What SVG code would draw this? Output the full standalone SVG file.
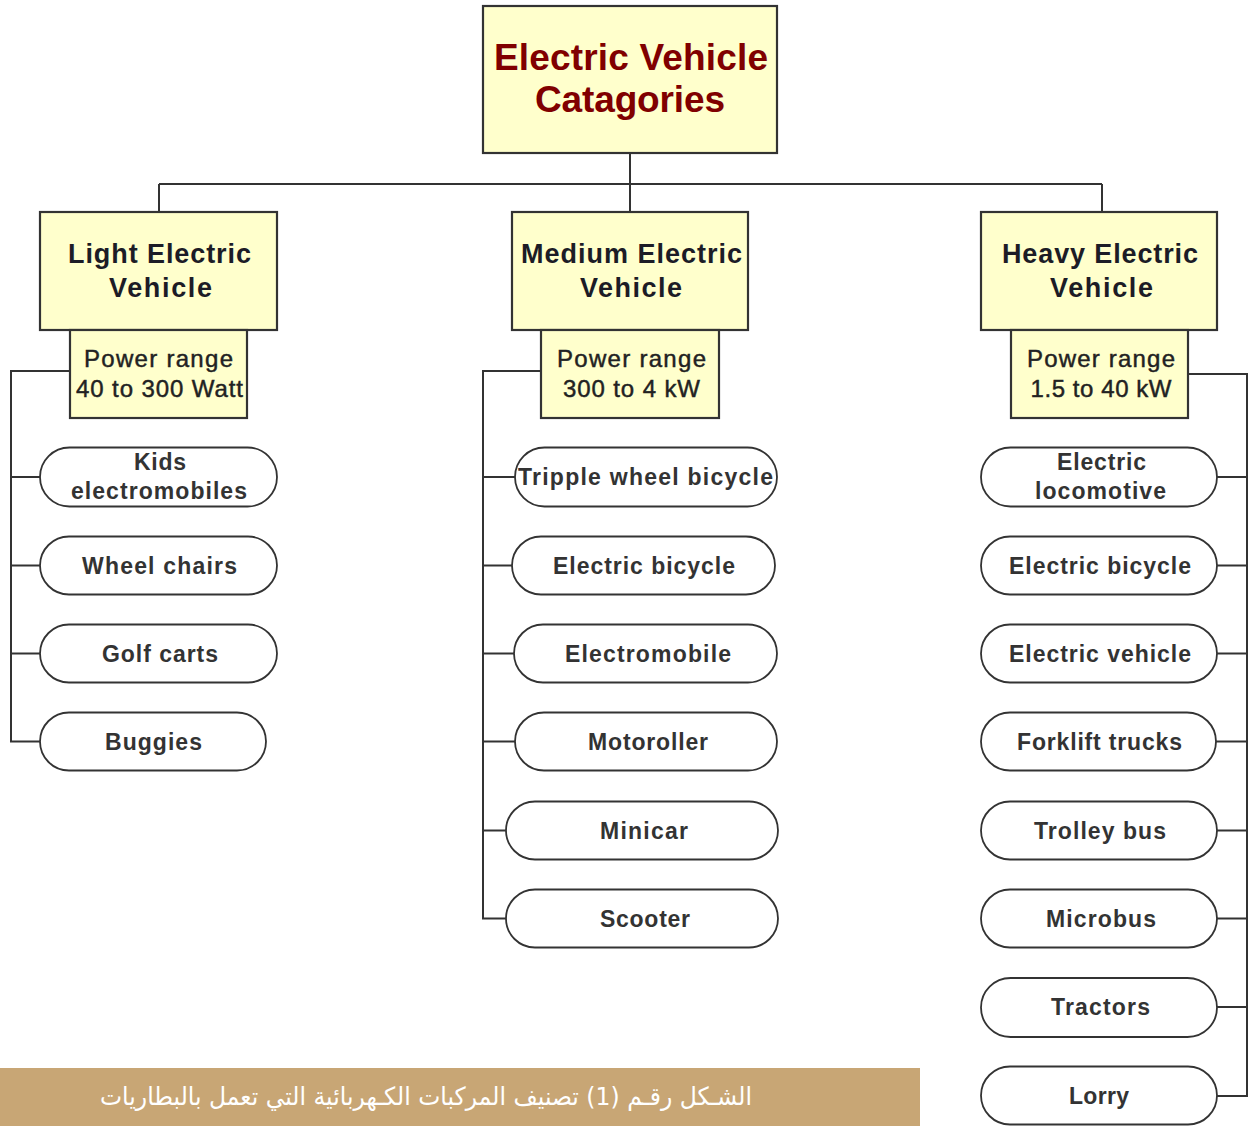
<svg xmlns="http://www.w3.org/2000/svg" width="1251" height="1128" viewBox="0 0 1251 1128">
  <style>
    .box { fill: #ffffcc; stroke: #333333; stroke-width: 2.2; }
    .pill { fill: #ffffff; stroke: #333333; stroke-width: 1.8; }
    .wire { fill: none; stroke: #333333; stroke-width: 2; }
    .root { font-family: "Liberation Sans", Arial, sans-serif; font-weight: bold; font-size: 37px; fill: #800000; text-anchor: middle; }
    .head { font-family: "Liberation Sans", Arial, sans-serif; font-weight: bold; font-size: 27px; fill: #1c1c26; text-anchor: middle; }
    .power { font-family: "Liberation Sans", Arial, sans-serif; font-size: 24px; fill: #222222; stroke: #222222; stroke-width: 0.45; text-anchor: middle; }
    .item { font-family: "Liberation Sans", Arial, sans-serif; font-weight: bold; font-size: 23px; fill: #333333; text-anchor: middle; }
    .caption { font-family: "DejaVu Sans", "Noto Sans", sans-serif; font-size: 25px; fill: #ffffff; text-anchor: middle; }
  </style>

  <rect width="1251" height="1128" fill="#ffffff"/>

  <!-- connectors -->
  <g id="connectors">
    <!-- root to category bus -->
    <line class="wire" x1="630" y1="153" x2="630" y2="212"/>
    <line class="wire" x1="159" y1="184" x2="1102" y2="184" stroke-width="2.6"/>
    <line class="wire" x1="159" y1="184" x2="159" y2="212"/>
    <line class="wire" x1="1102" y1="184" x2="1102" y2="212"/>
    <!-- light trunk -->
    <polyline class="wire" points="70,371 11,371 11,741.5 40,741.5"/>
    <line class="wire" x1="11" y1="477" x2="40" y2="477"/>
    <line class="wire" x1="11" y1="565.5" x2="40" y2="565.5"/>
    <line class="wire" x1="11" y1="653.5" x2="40" y2="653.5"/>
    <!-- medium trunk -->
    <polyline class="wire" points="541,371 483,371 483,918.5 506,918.5"/>
    <line class="wire" x1="483" y1="477" x2="515" y2="477"/>
    <line class="wire" x1="483" y1="565.5" x2="512" y2="565.5"/>
    <line class="wire" x1="483" y1="653.5" x2="514" y2="653.5"/>
    <line class="wire" x1="483" y1="741.5" x2="515" y2="741.5"/>
    <line class="wire" x1="483" y1="830.5" x2="506" y2="830.5"/>
    <!-- heavy trunk -->
    <polyline class="wire" points="1188,374 1247,374 1247,1096 1217,1096"/>
    <line class="wire" x1="1217" y1="477" x2="1247" y2="477"/>
    <line class="wire" x1="1217" y1="565.5" x2="1247" y2="565.5"/>
    <line class="wire" x1="1217" y1="653.5" x2="1247" y2="653.5"/>
    <line class="wire" x1="1216" y1="741.5" x2="1247" y2="741.5"/>
    <line class="wire" x1="1217" y1="830.5" x2="1247" y2="830.5"/>
    <line class="wire" x1="1217" y1="918.5" x2="1247" y2="918.5"/>
    <line class="wire" x1="1217" y1="1007" x2="1247" y2="1007"/>
  </g>

  <!-- root -->
  <g id="root">
    <rect class="box" x="483" y="6" width="294" height="147"/>
    <text class="root" x="631" y="70" textLength="274" lengthAdjust="spacing">Electric Vehicle</text>
    <text class="root" x="630" y="112" textLength="190" lengthAdjust="spacing">Catagories</text>
  </g>

  <!-- categories -->
  <g id="light">
    <rect class="box" x="40" y="212" width="237" height="118"/>
    <text class="head" x="159.5" y="263" textLength="183" lengthAdjust="spacing">Light Electric</text>
    <text class="head" x="160.5" y="297" textLength="103" lengthAdjust="spacing">Vehicle</text>
  </g>
  <g id="light-power">
    <rect class="box" x="70" y="330" width="177" height="88"/>
    <text class="power" x="158.5" y="367" textLength="149" lengthAdjust="spacing">Power range</text>
    <text class="power" x="159.5" y="397" textLength="167" lengthAdjust="spacing">40 to 300 Watt</text>
  </g>

  <g id="medium">
    <rect class="box" x="512" y="212" width="236" height="118"/>
    <text class="head" x="631.5" y="263" textLength="221" lengthAdjust="spacing">Medium Electric</text>
    <text class="head" x="631" y="297" textLength="102" lengthAdjust="spacing">Vehicle</text>
  </g>
  <g id="medium-power">
    <rect class="box" x="541" y="330" width="178" height="88"/>
    <text class="power" x="631.5" y="367" textLength="149" lengthAdjust="spacing">Power range</text>
    <text class="power" x="631.5" y="397" textLength="137" lengthAdjust="spacing">300 to 4 kW</text>
  </g>

  <g id="heavy">
    <rect class="box" x="981" y="212" width="236" height="118"/>
    <text class="head" x="1100" y="263" textLength="196" lengthAdjust="spacing">Heavy Electric</text>
    <text class="head" x="1101.5" y="297" textLength="103" lengthAdjust="spacing">Vehicle</text>
  </g>
  <g id="heavy-power">
    <rect class="box" x="1011" y="330" width="177" height="88"/>
    <text class="power" x="1101" y="367" textLength="148" lengthAdjust="spacing">Power range</text>
    <text class="power" x="1101" y="397" textLength="141" lengthAdjust="spacing">1.5 to 40 kW</text>
  </g>

  <!-- light vehicles -->
  <g id="kids-electromobiles">
    <rect class="pill" x="40" y="447.5" width="237" height="59" rx="29.5"/>
    <text class="item" x="160" y="470" textLength="52" lengthAdjust="spacing">Kids</text>
    <text class="item" x="159" y="499" textLength="176" lengthAdjust="spacing">electromobiles</text>
  </g>
  <g id="wheel-chairs">
    <rect class="pill" x="40" y="536.5" width="237" height="58" rx="29"/>
    <text class="item" x="159.5" y="573.5" textLength="155" lengthAdjust="spacing">Wheel chairs</text>
  </g>
  <g id="golf-carts">
    <rect class="pill" x="40" y="624.5" width="237" height="58" rx="29"/>
    <text class="item" x="160" y="661.5" textLength="116" lengthAdjust="spacing">Golf carts</text>
  </g>
  <g id="buggies">
    <rect class="pill" x="40" y="712.5" width="226" height="58" rx="29"/>
    <text class="item" x="153.5" y="749.5" textLength="97" lengthAdjust="spacing">Buggies</text>
  </g>

  <!-- medium vehicles -->
  <g id="tripple-wheel-bicycle">
    <rect class="pill" x="515" y="447.5" width="262" height="59" rx="29.5"/>
    <text class="item" x="645.5" y="485" textLength="255" lengthAdjust="spacing">Tripple wheel bicycle</text>
  </g>
  <g id="electric-bicycle-m">
    <rect class="pill" x="512" y="536.5" width="263" height="58" rx="29"/>
    <text class="item" x="644" y="573.5" textLength="182" lengthAdjust="spacing">Electric bicycle</text>
  </g>
  <g id="electromobile">
    <rect class="pill" x="514" y="624.5" width="263" height="58" rx="29"/>
    <text class="item" x="648" y="661.5" textLength="166" lengthAdjust="spacing">Electromobile</text>
  </g>
  <g id="motoroller">
    <rect class="pill" x="515" y="712.5" width="262" height="58" rx="29"/>
    <text class="item" x="648" y="749.5" textLength="120" lengthAdjust="spacing">Motoroller</text>
  </g>
  <g id="minicar">
    <rect class="pill" x="506" y="801.5" width="272" height="58" rx="29"/>
    <text class="item" x="644" y="838.5" textLength="88" lengthAdjust="spacing">Minicar</text>
  </g>
  <g id="scooter">
    <rect class="pill" x="506" y="889.5" width="272" height="58" rx="29"/>
    <text class="item" x="645" y="926.5" textLength="90" lengthAdjust="spacing">Scooter</text>
  </g>

  <!-- heavy vehicles -->
  <g id="electric-locomotive">
    <rect class="pill" x="981" y="447.5" width="236" height="59" rx="29.5"/>
    <text class="item" x="1101.5" y="470" textLength="89" lengthAdjust="spacing">Electric</text>
    <text class="item" x="1100.5" y="499" textLength="131" lengthAdjust="spacing">locomotive</text>
  </g>
  <g id="electric-bicycle-h">
    <rect class="pill" x="981" y="536.5" width="236" height="58" rx="29"/>
    <text class="item" x="1100" y="573.5" textLength="182" lengthAdjust="spacing">Electric bicycle</text>
  </g>
  <g id="electric-vehicle">
    <rect class="pill" x="981" y="624.5" width="236" height="58" rx="29"/>
    <text class="item" x="1100" y="661.5" textLength="182" lengthAdjust="spacing">Electric vehicle</text>
  </g>
  <g id="forklift-trucks">
    <rect class="pill" x="981" y="712.5" width="235" height="58" rx="29"/>
    <text class="item" x="1099.5" y="749.5" textLength="165" lengthAdjust="spacing">Forklift trucks</text>
  </g>
  <g id="trolley-bus">
    <rect class="pill" x="981" y="801.5" width="236" height="58" rx="29"/>
    <text class="item" x="1100" y="838.5" textLength="132" lengthAdjust="spacing">Trolley bus</text>
  </g>
  <g id="microbus">
    <rect class="pill" x="981" y="889.5" width="236" height="58" rx="29"/>
    <text class="item" x="1101" y="926.5" textLength="110" lengthAdjust="spacing">Microbus</text>
  </g>
  <g id="tractors">
    <rect class="pill" x="981" y="978" width="236" height="59" rx="29.5"/>
    <text class="item" x="1100.5" y="1015" textLength="99" lengthAdjust="spacing">Tractors</text>
  </g>
  <g id="lorry">
    <rect class="pill" x="981" y="1066.5" width="236" height="58" rx="29"/>
    <text class="item" x="1099" y="1103.5" textLength="60" lengthAdjust="spacing">Lorry</text>
  </g>

  <!-- caption band -->
  <g id="caption">
    <rect x="0" y="1068" width="920" height="58" fill="#c8a675"/>
    <text class="caption" x="426" y="1105" direction="rtl" textLength="652" lengthAdjust="spacingAndGlyphs">الشـكل رقـم (1) تصنيف المركبات الكـهربائية التي تعمل بالبطاريات</text>
  </g>
</svg>
